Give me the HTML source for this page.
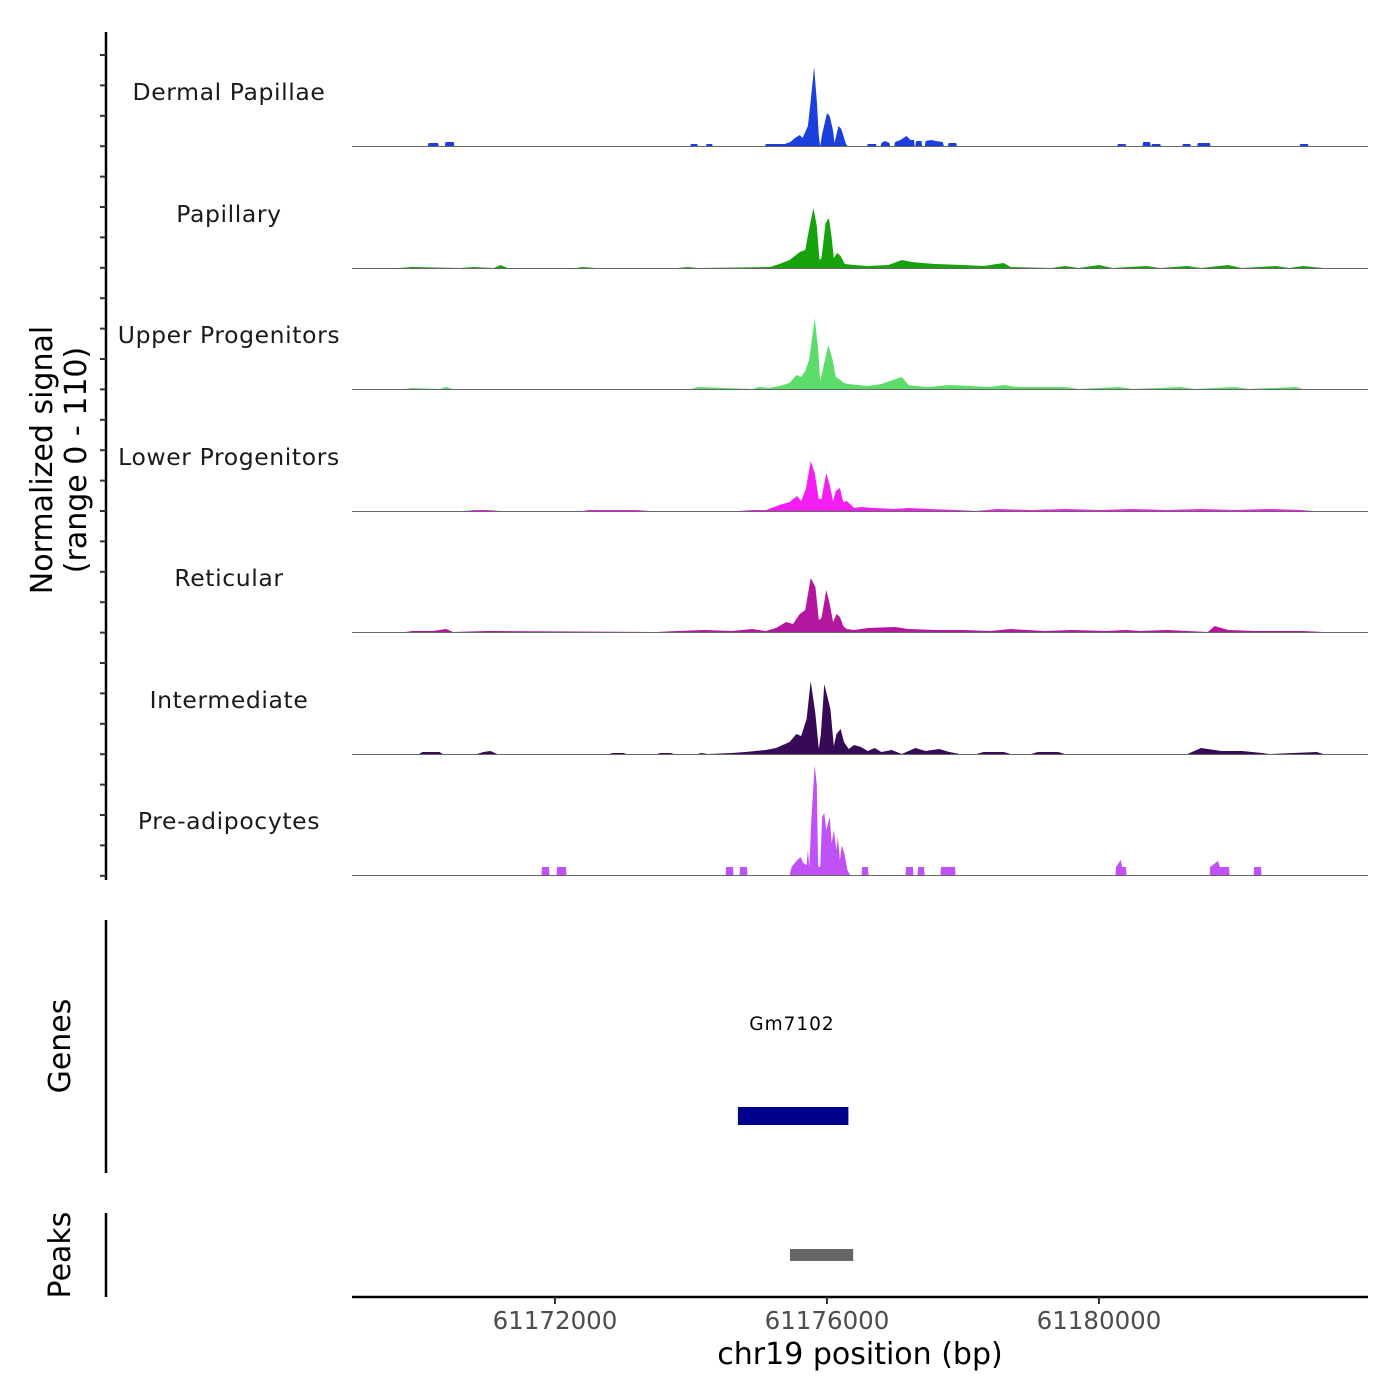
<!DOCTYPE html>
<html><head><meta charset="utf-8"><style>
html,body{margin:0;padding:0;background:#fff;}
svg{display:block;font-family:"DejaVu Sans","Liberation Sans",sans-serif;}
</style></head><body>
<svg id="chart" width="1400" height="1400" viewBox="0 0 1400 1400">
<g id="tracks"></g>
<line x1="106" y1="32" x2="106" y2="880" stroke="#000" stroke-width="2.5"/>
<g id="yticks"></g>
<text transform="translate(52,460) rotate(-90)" text-anchor="middle" font-size="30" fill="#000">Normalized signal</text>
<text transform="translate(86,460) rotate(-90)" text-anchor="middle" font-size="30" fill="#000">(range 0 - 110)</text>
<line x1="106" y1="920" x2="106" y2="1173" stroke="#000" stroke-width="2.5"/>
<text transform="translate(70,1046) rotate(-90)" text-anchor="middle" font-size="30" fill="#000">Genes</text>
<text x="792" y="1030" text-anchor="middle" font-size="18.5" fill="#000" letter-spacing="1">Gm7102</text>
<rect id="genebar" x="738" y="1107" width="110" height="18" fill="#00008b"/>
<line x1="106" y1="1213" x2="106" y2="1297" stroke="#000" stroke-width="2.5"/>
<text transform="translate(70,1255) rotate(-90)" text-anchor="middle" font-size="30" fill="#000">Peaks</text>
<rect id="peakbar" x="790" y="1249" width="63" height="12" fill="#666"/>
<line x1="352" y1="1297" x2="1368" y2="1297" stroke="#000" stroke-width="2.5"/>
<g id="xticks"></g>
<text x="860" y="1364" text-anchor="middle" font-size="30" fill="#000">chr19 position (bp)</text>
</svg>
<script>
const xDomain = [61169015, 61183956];
const xTicks = [61172000, 61176000, 61180000];
const trackNames = ["Dermal Papillae","Papillary","Upper Progenitors","Lower Progenitors","Reticular","Intermediate","Pre-adipocytes"];
const trackColors = ["#1a3fdc","#17a30c","#5cdd6a","#f41ef2","#b3169f","#370a58","#c051f7"];
const yMax = 110;
const genePos = [61174690, 61176315];
const peakPos = [61175455, 61176385];

const dermalPos = [61170130,61170140,61170280,61170290,61170380,61170390,61170510,61170520,61173990,61174000,61174090,61174100,61174220,61174230,61174310,61174320,61175090,61175100,61175380,61175460,61175530,61175600,61175640,61175680,61175720,61175760,61175810,61175850,61175880,61175900,61175930,61176000,61176040,61176090,61176110,61176170,61176210,61176280,61176300,61176590,61176600,61176720,61176730,61176790,61176800,61176850,61176920,61176930,61176990,61177000,61177080,61177170,61177230,61177280,61177290,61177300,61177310,61177390,61177400,61177440,61177450,61177530,61177600,61177700,61177720,61177780,61177790,61177900,61177910,61180270,61180280,61180390,61180400,61180640,61180650,61180750,61180760,61180770,61180780,61180900,61180910,61181225,61181235,61181340,61181350,61181445,61181455,61181630,61181640,61182950,61182960,61183070,61183080];
const dermalVal = [0,3,3,0,0,4,4,0,0,2,2,0,0,2,2,0,0,2,2,4,8,11,8,14,20,45,79,45,10,0,12,33,30,15,3,20,17,2,0,0,2,2,0,0,3,5,3,0,0,4,6,10,6,6,0,0,5,5,0,0,5,6,5,4,0,0,3,3,0,0,2,2,0,0,4,4,0,0,2,2,0,0,2,2,0,0,3,3,0,0,2,2,0];

const papPos = [61169700,61169900,61170600,61170800,61171100,61171200,61171300,61172300,61172400,61172600,61173800,61173950,61174100,61175160,61175300,61175450,61175600,61175680,61175740,61175800,61175850,61175890,61175920,61175980,61176030,61176070,61176100,61176150,61176200,61176260,61176400,61176600,61176900,61177100,61177250,61177400,61177600,61178000,61178300,61178600,61178700,61179300,61179500,61179700,61180000,61180200,61180700,61180900,61181300,61181500,61181900,61182100,61182600,61182800,61183000,61183300];
const papVal = [0,1,0,1,0,3,0,0,1,0,0,1,0,1,4,8,16,18,40,60,42,8,10,45,50,30,10,15,12,4,3,2,3,8,6,5,4,3,2,5,1,0,2,0,3,0,2,0,2,0,3,0,2,0,2,0];

const upPos = [61169800,61169900,61170300,61170400,61170500,61174000,61174100,61174900,61175000,61175150,61175300,61175450,61175550,61175620,61175680,61175740,61175820,61175870,61175900,61175940,61176020,61176080,61176130,61176180,61176250,61176320,61176450,61176600,61176800,61177100,61177200,61177300,61177500,61177800,61178100,61178400,61178600,61178800,61179500,61179700,61180300,61180500,61181200,61181400,61182000,61182200,61182900,61183000];
const upVal = [0,1,0,2,0,0,2,0,2,1,3,6,14,12,18,30,71,40,8,20,44,30,12,10,6,5,4,3,5,12,4,3,2,4,3,2,4,2,2,0,2,0,2,0,2,0,2,0];

const lowPos = [61170700,61170800,61171000,61171200,61172400,61172500,61173200,61173400,61174700,61174900,61175100,61175300,61175450,61175560,61175620,61175690,61175760,61175820,61175880,61175920,61175990,61176040,61176090,61176130,61176190,61176240,61176290,61176400,61176500,61176700,61177000,61177200,61177500,61177900,61178200,61178500,61179000,61179500,61180000,61180500,61181000,61181500,61182000,61182500,61183000,61183100];
const lowVal = [0,1,1,0,0,1,1,0,0,1,1,6,9,15,10,22,50,38,12,12,38,26,10,20,23,9,10,3,4,3,2,3,2,1,0,2,1,2,1,2,1,2,1,2,1,0];

const retPos = [61169800,61169900,61170200,61170400,61170500,61171000,61173500,61173800,61174200,61174600,61174900,61175100,61175250,61175400,61175500,61175600,61175680,61175760,61175830,61175880,61175920,61175990,61176040,61176090,61176140,61176190,61176240,61176290,61176400,61176600,61177000,61177200,61177600,61178000,61178400,61178700,61179200,61179600,61180100,61180400,61180600,61181000,61181600,61181700,61181900,61182300,61182700,61183000,61183300];
const retVal = [0,1,1,3,0,1,0,1,2,1,3,1,4,10,8,18,22,54,45,12,14,42,28,10,18,15,6,3,2,4,5,3,2,2,1,3,1,2,1,2,1,2,0,6,2,1,1,1,0];

const intPos = [61170000,61170050,61170300,61170350,61170850,61170950,61171050,61171150,61172800,61172850,61173000,61173050,61173500,61173550,61173700,61173750,61174100,61174150,61174250,61174600,61174800,61175100,61175250,61175350,61175450,61175550,61175620,61175700,61175760,61175830,61175880,61175910,61175960,61176050,61176100,61176140,61176200,61176250,61176320,61176400,61176500,61176600,61176700,61176800,61176950,61177100,61177300,61177450,61177650,61177800,61177950,61178200,61178300,61178600,61178700,61179000,61179100,61179400,61179500,61181300,61181500,61181800,61182100,61182400,61182500,61183200,61183300];
const intVal = [0,2,2,0,0,2,3,0,0,1,1,0,0,1,1,0,0,1,0,1,2,4,6,9,12,20,18,35,73,40,5,20,70,45,8,20,25,12,5,9,7,3,6,2,4,0,6,3,5,2,0,0,2,2,0,0,2,2,0,0,6,3,3,1,0,2,0];

const preaPos = [61171800,61171809,61171912,61171920,61172025,61172030,61172162,61172170,61174510,61174515,61174618,61174625,61174715,61174721,61174824,61174830,61175450,61175480,61175550,61175610,61175650,61175700,61175720,61175740,61175770,61175820,61175850,61175870,61175880,61175900,61175930,61175960,61175990,61176040,61176070,61176100,61176140,61176160,61176190,61176220,61176260,61176300,61176340,61176510,61176515,61176603,61176610,61177155,61177162,61177265,61177272,61177333,61177338,61177427,61177435,61177670,61177677,61177883,61177890,61180245,61180250,61180320,61180340,61180397,61180405,61181628,61181633,61181750,61181780,61181912,61181920,61182275,61182280,61182383,61182390];
const preaVal = [0,8,8,0,0,8,8,0,0,8,8,0,0,8,8,0,0,8,14,18,12,10,25,8,55,110,90,10,8,8,58,62,45,58,32,45,25,38,15,30,20,5,0,0,8,8,0,0,8,8,0,0,8,8,0,0,8,8,0,0,8,15,8,8,0,0,8,14,8,8,0,0,8,8,0];

const trackPos = [dermalPos, papPos, upPos, lowPos, retPos, intPos, preaPos];
const trackVal = [dermalVal, papVal, upVal, lowVal, retVal, intVal, preaVal];

const X0 = 352, X1 = 1368;
function xScale(bp){ return X0 + (bp - xDomain[0]) / (xDomain[1] - xDomain[0]) * (X1 - X0); }
const baselines = [146, 268, 389, 511, 632, 754, 875];
const trackPx = 110;
function yScale(v, i){ return baselines[i] - v / yMax * trackPx; }

const NS = "http://www.w3.org/2000/svg";
const tracksG = document.getElementById('tracks');
trackNames.forEach((name, i) => {
  const g = document.createElementNS(NS, 'g');
  
  
  const pos = trackPos[i], val = trackVal[i];
  let d = 'M' + xScale(pos[0]).toFixed(1) + ',' + baselines[i];
  for (let k = 0; k < pos.length; k++) d += ' L' + xScale(pos[k]).toFixed(1) + ',' + yScale(val[k], i).toFixed(1);
  d += ' L' + xScale(pos[pos.length - 1]).toFixed(1) + ',' + baselines[i] + ' Z';
  const p = document.createElementNS(NS, 'path');
  p.setAttribute('d', d);
  p.setAttribute('fill', trackColors[i]);
  
  
  g.appendChild(p);
  const bl = document.createElementNS(NS, 'line');
  bl.setAttribute('x1', X0); bl.setAttribute('x2', X1);
  bl.setAttribute('y1', baselines[i] + 0.5); bl.setAttribute('y2', baselines[i] + 0.5);
  bl.setAttribute('stroke', '#666'); bl.setAttribute('stroke-width', '1');
  
  
  g.appendChild(bl);
  const t = document.createElementNS(NS, 'text');
  t.setAttribute('x', 229); t.setAttribute('y', baselines[i] - 46);
  t.setAttribute('text-anchor', 'middle'); t.setAttribute('font-size', '23.5');
  t.setAttribute('fill', '#1a1a1a'); t.setAttribute('letter-spacing', '0.6');
  
  
  t.textContent = name;
  g.appendChild(t);
  tracksG.appendChild(g);
});

const yt = document.getElementById('yticks');
for (let y = 55; y <= 880; y += 30.4) {
  const l = document.createElementNS(NS, 'line');
  l.setAttribute('x1', 100); l.setAttribute('x2', 106);
  l.setAttribute('y1', y); l.setAttribute('y2', y);
  l.setAttribute('stroke', '#333'); l.setAttribute('stroke-width', '2');
  
  
  yt.appendChild(l);
}

const xt = document.getElementById('xticks');
xTicks.forEach(v => {
  const x = xScale(v);
  const l = document.createElementNS(NS, 'line');
  l.setAttribute('x1', x); l.setAttribute('x2', x);
  l.setAttribute('y1', 1297); l.setAttribute('y2', 1304);
  l.setAttribute('stroke', '#333'); l.setAttribute('stroke-width', '2');
  
  
  xt.appendChild(l);
  const t = document.createElementNS(NS, 'text');
  t.setAttribute('x', x); t.setAttribute('y', 1329);
  t.setAttribute('text-anchor', 'middle'); t.setAttribute('font-size', '24.5');
  t.setAttribute('fill', '#4d4d4d');
  
  
  t.textContent = v;
  xt.appendChild(t);
});

const gb = document.getElementById('genebar');
gb.setAttribute('x', xScale(genePos[0])); gb.setAttribute('width', xScale(genePos[1]) - xScale(genePos[0]));
const pb = document.getElementById('peakbar');
pb.setAttribute('x', xScale(peakPos[0])); pb.setAttribute('width', xScale(peakPos[1]) - xScale(peakPos[0]));
</script>
</body></html>
